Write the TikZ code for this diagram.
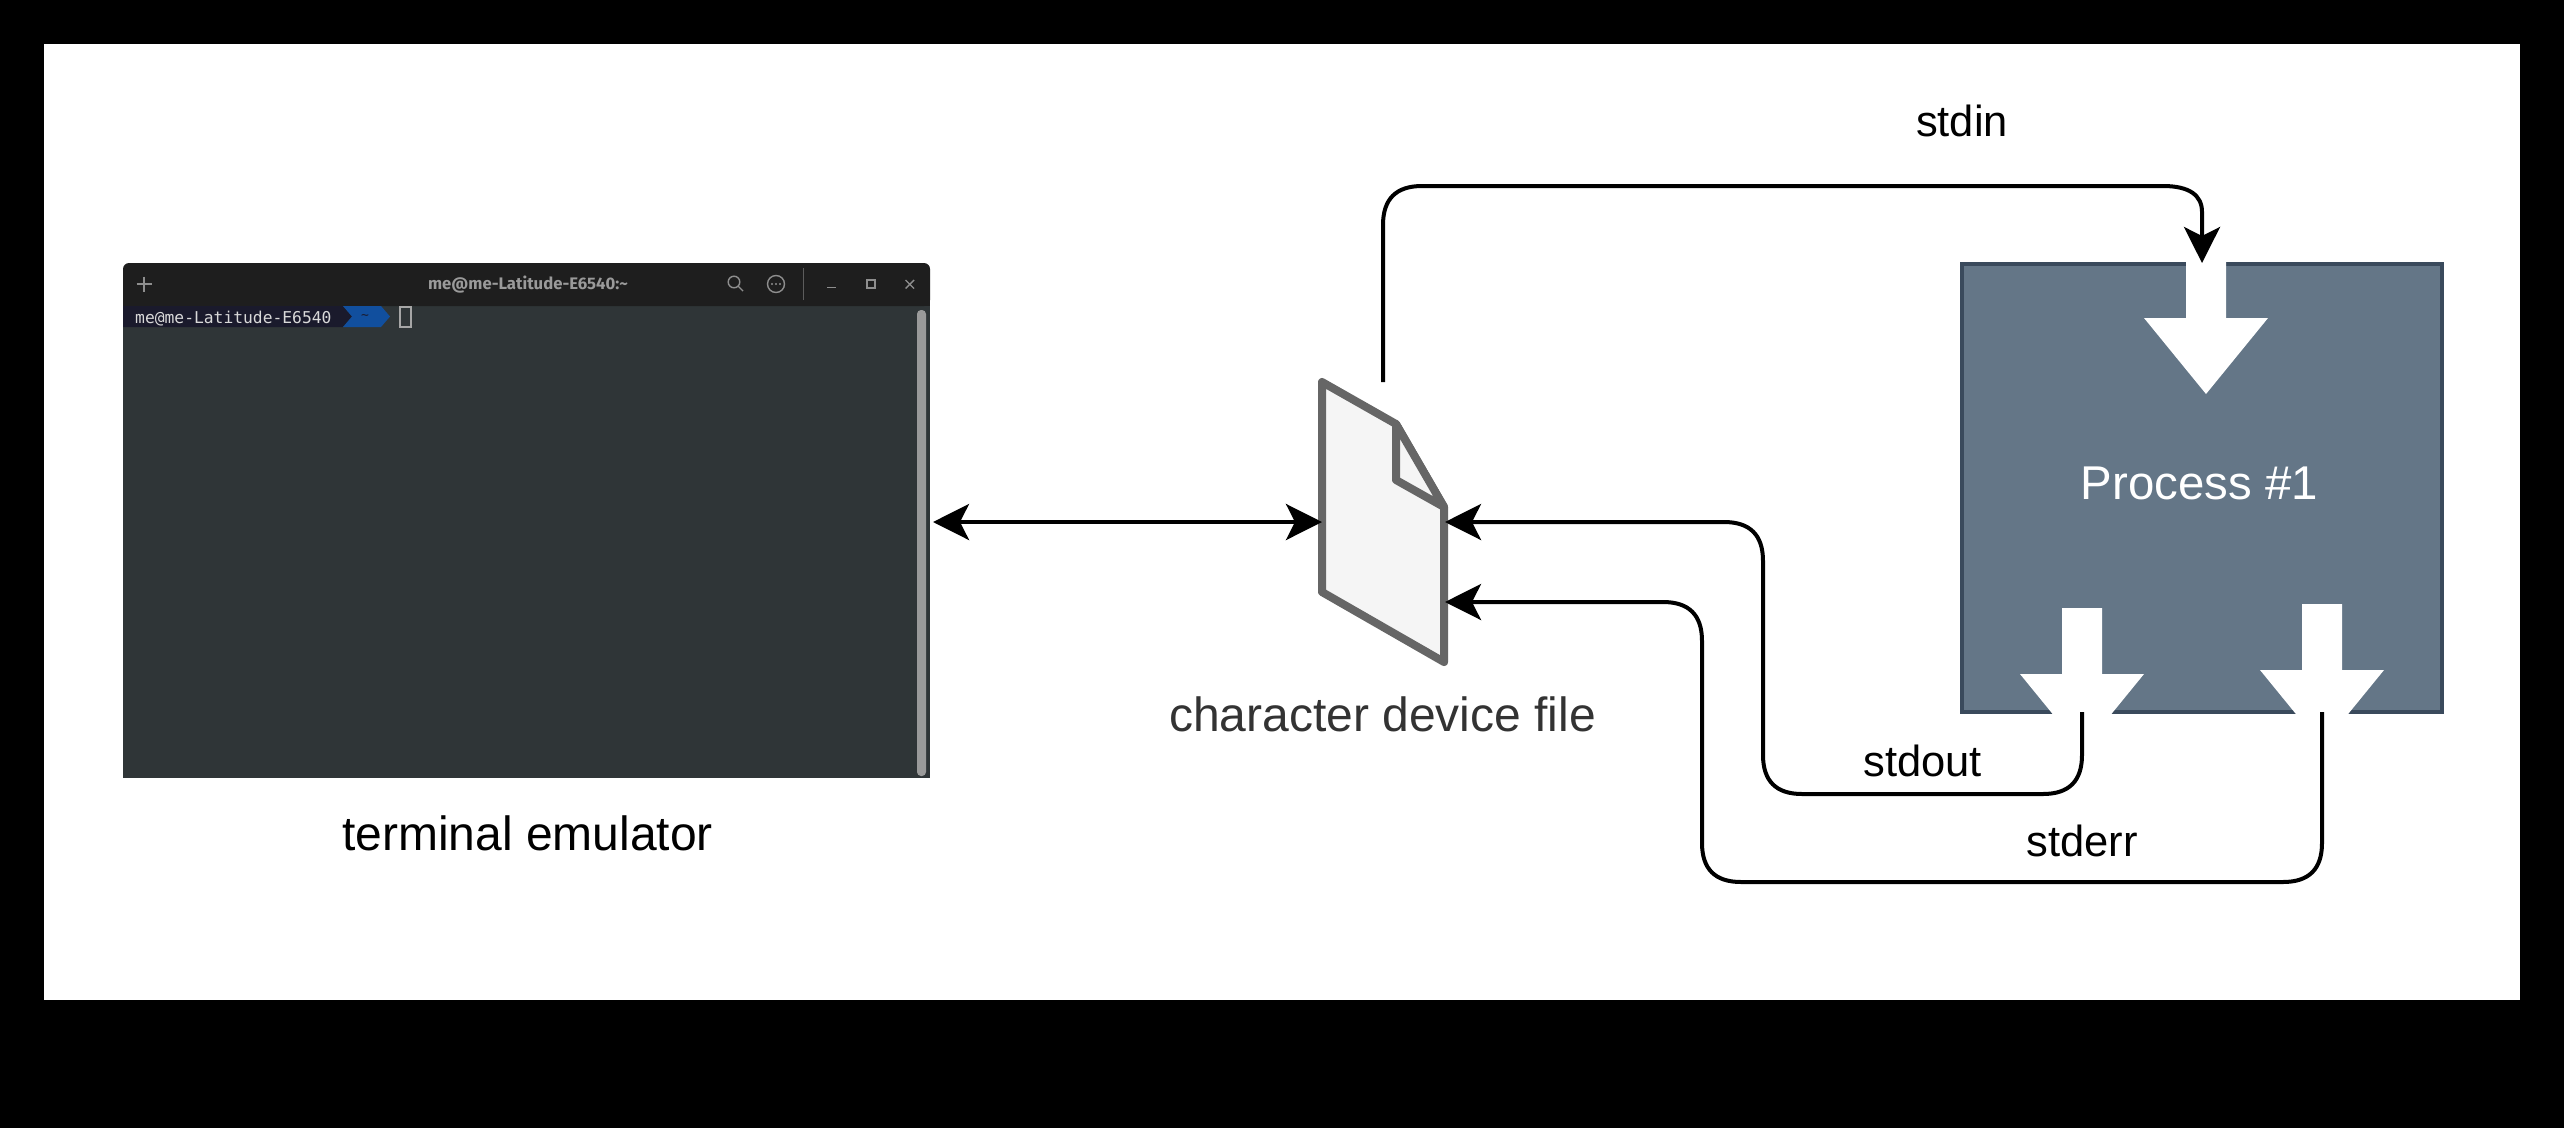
\documentclass[tikz,border=0pt]{standalone}
\usepackage{fontspec}
\setmainfont{Liberation Sans}
\newfontfamily\termmono{DejaVu Sans Mono}
\newfontfamily\termtitle{Fira Sans}
\usetikzlibrary{arrows.meta}
\definecolor{slatefill}{HTML}{647687}
\definecolor{slateline}{HTML}{3A4A5C}
\definecolor{termbg}{HTML}{2F3537}
\definecolor{termbar}{HTML}{1E1E1E}
\definecolor{termgrey}{HTML}{9A9A9A}
\definecolor{iconline}{HTML}{8E8E8E}
\definecolor{promptbg}{HTML}{1A1A2C}
\definecolor{promptblue}{HTML}{114F9E}
\definecolor{docline}{HTML}{666666}
\definecolor{docfill}{HTML}{F5F5F5}
\tikzset{
  tiphead/.tip={Stealth[length=36pt,width=36pt,inset=9pt]},
  link/.style={line width=4pt,black},
  biglabel/.style={font=\fontsize{48}{56}\selectfont,inner sep=0pt,anchor=center},
  smalllabel/.style={font=\fontsize{43.5}{50}\selectfont,inner sep=0pt,anchor=center,black},
  whitearrow/.style={fill=white,draw=none},
  wbtn/.style={draw=iconline,line width=1.4pt},
}
\begin{document}
\begin{tikzpicture}[x=1pt,y=-1pt]
\useasboundingbox (0,0) rectangle (2564,1128);
\fill[black] (0,0) rectangle (2564,1128);
\fill[white] (44,44) rectangle (2520,1000);

% terminal window
\path[fill=termbg] (123,300) rectangle (930,778);
\fill[termbar,rounded corners=6pt] (123,306) -- (123,263) -- (930,263) -- (930,306) -- cycle;
\fill[termbar] (123,290) rectangle (930,306);
\node[draw=none,minimum width=807pt,minimum height=515pt,inner sep=0pt] (term) at (526.5,520.5) {};
\node[font=\termtitle\bfseries\fontsize{16.7}{18}\selectfont,text=termgrey,inner sep=0pt] (ttl) at (528,285) {me@me-Latitude-E6540:\textasciitilde};
\draw[wbtn] (136.5,284) -- (151.5,284) (144,276.5) -- (144,291.5);
\draw[wbtn] (734,282) circle (5.8pt) (738.2,286.2) -- (743,291);
\draw[wbtn] (776,284) circle (8.5pt);
\fill[iconline] (772,284) circle (1.1pt) (776,284) circle (1.1pt) (780,284) circle (1.1pt);
\draw[draw=termgrey!50!termbar,line width=1pt] (803,268) -- (803,300);
\draw[wbtn] (827,287.5) -- (836,287.5);
\draw[wbtn] (867,280) rectangle (875,288);
\draw[wbtn] (905.5,280) -- (914,288.5) (914,280) -- (905.5,288.5);
% prompt
\fill[promptbg] (123,306) -- (343,306) -- (352,316.5) -- (343,327) -- (123,327) -- cycle;
\fill[promptblue] (343,306) -- (381,306) -- (390,316.5) -- (381,327) -- (343,327) -- (352,316.5) -- cycle;
\node[font=\termmono\fontsize{16.3}{18}\selectfont,text=white!85!black,inner sep=0pt,anchor=west] (prompt) at (135,318.5) {me@me-Latitude-E6540};
\node[font=\termmono\fontsize{13}{15}\selectfont,text=promptbg,inner sep=0pt] (tilde) at (365,317) {\textasciitilde};
\draw[draw=white!65!black,line width=1.4pt] (400,307) rectangle (411,327);
% scrollbar
\fill[termgrey,rounded corners=4pt] (917,310) rectangle (926,776);

% file icon
\fill[docfill] (1322,382) -- (1396,424) -- (1444,507) -- (1444,662) -- (1322,592) -- cycle;
\draw[docline,line width=8pt,line join=round] (1322,382) -- (1396,424) -- (1444,507) -- (1444,662) -- (1322,592) -- cycle;
\draw[docline,line width=8pt,line join=round,fill=docfill] (1396,424) -- (1396,480) -- (1444,507) -- cycle;
\coordinate (fileL) at (1322,522);
\coordinate (fileOut) at (1445,522);
\coordinate (fileErr) at (1445,602);
\coordinate (fileTop) at (1383,382);
\coordinate (termR) at (933,522);

% process
\node[draw=slateline,fill=slatefill,line width=4pt,minimum width=480pt,minimum height=448pt,inner sep=0pt] (proc) at (2202,488) {};
\node[font=\fontsize{47.4}{56}\selectfont,inner sep=0pt,text=white] (proclbl) at (2199.5,483.5) {Process \#1};
\fill[whitearrow] (2186,262) -- (2226,262) -- (2226,318) -- (2268,318) -- (2206,394) -- (2144,318) -- (2186,318) -- cycle;
\fill[whitearrow] (2062,608) -- (2102,608) -- (2102,674) -- (2144,674) -- (2082,750) -- (2020,674) -- (2062,674) -- cycle;
\fill[whitearrow] (2302,604) -- (2342,604) -- (2342,670) -- (2384,670) -- (2322,746) -- (2260,670) -- (2302,670) -- cycle;
\coordinate (procIn) at (2202,263);
\coordinate (procOut) at (2082,712);
\coordinate (procErr) at (2322,712);

% connectors (corners are quadratic, radius 39)
\draw[link,{tiphead}-{tiphead}] (termR) -- (fileL);
\draw[link,-{tiphead}] (fileTop) -- (1383,225) .. controls (1383,199) and (1396,186) .. (1422,186)
  -- (2163,186) .. controls (2189,186) and (2202,195) .. (2202,212) -- (procIn);
\draw[link,-{tiphead}] (procOut) -- (2082,755) .. controls (2082,781) and (2069,794) .. (2043,794)
  -- (1802,794) .. controls (1776,794) and (1763,781) .. (1763,755)
  -- (1763,561) .. controls (1763,535) and (1750,522) .. (1724,522) -- (fileOut);
\draw[link,-{tiphead}] (procErr) -- (2322,843) .. controls (2322,869) and (2309,882) .. (2283,882)
  -- (1741,882) .. controls (1715,882) and (1702,869) .. (1702,843)
  -- (1702,641) .. controls (1702,615) and (1689,602) .. (1663,602) -- (fileErr);

% labels
\node[smalllabel] (lblin) at (1962,121) {stdin};
\node[smalllabel] (lblout) at (1922.5,760.5) {stdout};
\node[smalllabel] (lblerr) at (2082,840.5) {stderr};
\node[biglabel,text=black!80] (lblfile) at (1382.5,714.5) {character device file};
\node[biglabel,text=black] (lblterm) at (527.5,833.5) {terminal emulator};
\end{tikzpicture}
\end{document}
